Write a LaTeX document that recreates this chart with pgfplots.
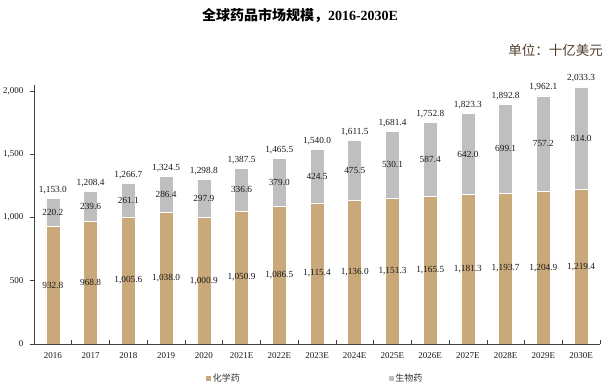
\documentclass[border=0pt]{standalone}
\usepackage{pgfplots}
\pgfplotsset{compat=1.18}
\usepackage{pgfplotstable}
\usepackage{fontspec}
\setmainfont{Liberation Serif}
\newfontfamily\cjk{Noto Sans CJK SC}
\definecolor{chem}{RGB}{201,169,122}
\definecolor{bio}{RGB}{191,191,191}
\definecolor{unitc}{RGB}{80,62,42}
\pgfplotstableread{
x chem bio total
0 932.8 220.2 1153.0
1 968.8 239.6 1208.4
2 1005.6 261.1 1266.7
3 1038.0 286.4 1324.5
4 1000.9 297.9 1298.8
5 1050.9 336.6 1387.5
6 1086.5 379.0 1465.5
7 1115.4 424.5 1540.0
8 1136.0 475.5 1611.5
9 1151.3 530.1 1681.4
10 1165.5 587.4 1752.8
11 1181.3 642.0 1823.3
12 1193.7 699.1 1892.8
13 1204.9 757.2 1962.1
14 1219.4 814.0 2033.3
}\data
\begin{document}
\begin{tikzpicture}[font=\fontsize{9}{10}\selectfont]
\useasboundingbox (0,0) rectangle (609pt,389pt);
\node[font=\fontsize{14}{16}\selectfont\bfseries] at (300pt,373pt) {{\cjk\bfseries 全球药品市场规模，}2016-2030E};
\node[anchor=east, text=unitc, font=\fontsize{13.5}{15}\selectfont\cjk, inner sep=0pt] at (603pt,339pt) {单位：十亿美元};
\begin{axis}[
  at={(34pt,45pt)}, anchor=south west,
  scale only axis, width=566pt, height=259.3pt,
  xmin=-0.5, xmax=14.5, ymin=0, ymax=2050,
  ybar stacked, bar width=14pt,
  axis on top,
  axis x line*=bottom, axis y line*=left,
  axis line style={black!75, line width=0.8pt},
  xtick={0.5,1.5,...,14.5},
  xticklabels={},
  extra x ticks={0,...,14},
  extra x tick labels={2016,2017,2018,2019,2020,2021E,2022E,2023E,2024E,2025E,2026E,2027E,2028E,2029E,2030E},
  extra x tick style={major tick length=0pt},
  tick align=inside,
  major tick length=4pt,
  x tick style={black!75, line width=0.6pt},
  ytick={0,500,1000,1500,2000},
  y tick style={xshift=-4pt, black!75, line width=0.6pt},
  yticklabel style={/pgf/number format/1000 sep={,}, xshift=-7pt},
  /pgf/number format/assume math mode=true,
  ticklabel style={text=black!90},
  xticklabel style={yshift=-4.5pt},
  legend style={draw=none, at={(0.497,-0.131)}, anchor=center, legend columns=2,
    font=\fontsize{9}{10}\selectfont\cjk, text=black!80,
    /tikz/every even column/.append style={column sep=147pt}},
  legend cell align=left,
  clip=false,
]
\addplot[fill=chem, draw=white, line width=0.6pt,
  legend image code/.code={\fill[chem] (0pt,-2pt) rectangle (4pt,2pt);}] table[x=x,y=chem] {\data};
\addlegendentry{化学药}
\addplot[fill=bio, draw=white, line width=0.6pt,
  legend image code/.code={\fill[bio] (0pt,-2pt) rectangle (4pt,2pt);}] table[x=x,y=bio] {\data};
\addlegendentry{生物药}
\end{axis}
\begin{axis}[
  at={(34pt,45pt)}, anchor=south west,
  scale only axis, width=566pt, height=259.3pt,
  xmin=-0.5, xmax=14.5, ymin=0, ymax=2050,
  hide axis, clip=false,
  /pgf/number format/.cd, fixed, fixed zerofill, precision=1, 1000 sep={,}, assume math mode=true,
  /pgfplots/.cd,
  nodes near coords, point meta=explicit,
  every node near coord/.append style={text=black!90, font=\fontsize{9.3}{10}\selectfont},
]
\addplot[only marks, mark=none, every node near coord/.append style={anchor=center}]
  table[x=x, y expr=\thisrow{chem}/2, meta=chem] {\data};
\addplot[only marks, mark=none, every node near coord/.append style={anchor=center}]
  table[x=x, y expr=\thisrow{chem}+\thisrow{bio}/2, meta=bio] {\data};
\addplot[only marks, mark=none, every node near coord/.append style={anchor=south, yshift=1pt}]
  table[x=x, y=total, meta=total] {\data};
\end{axis}
\end{tikzpicture}
\end{document}
